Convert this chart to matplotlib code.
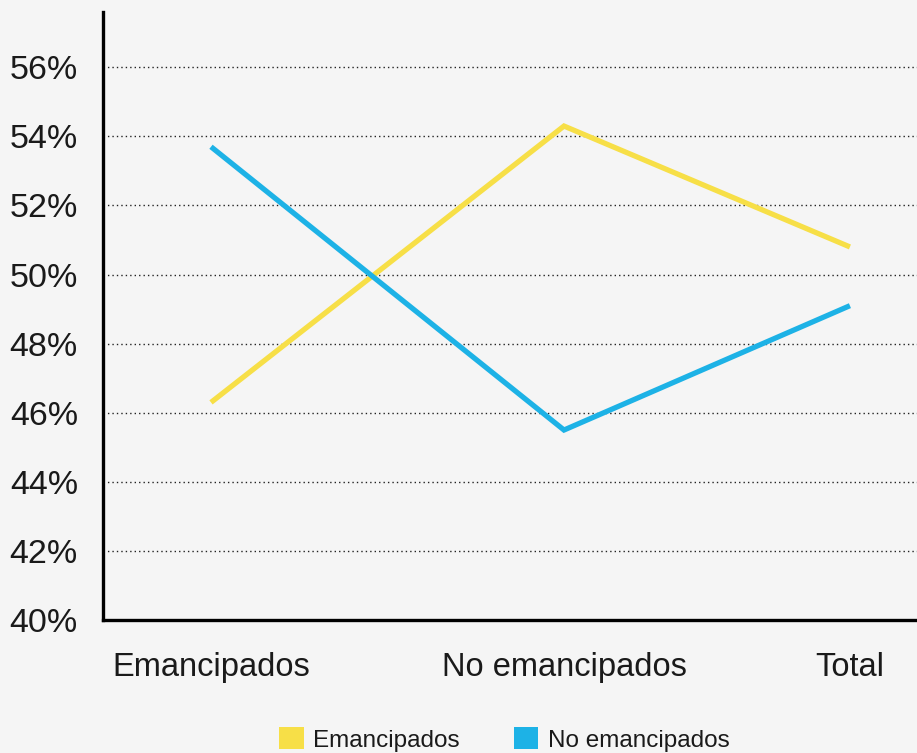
import matplotlib
matplotlib.use('Agg')
import matplotlib.pyplot as plt
from matplotlib.patches import Patch
from matplotlib.ticker import FuncFormatter

plt.rcParams['font.family'] = ['Liberation Sans', 'DejaVu Sans']

# Datos
categorias = ['Emancipados', 'No emancipados', 'Total']
emancipados = [46.3, 54.3, 50.8]
no_emancipados = [53.7, 45.5, 49.1]
y_ticks = [40, 42, 44, 46, 48, 50, 52, 54, 56]

# posiciones de las categorías en el eje (el original no es equiespaciado)
x_pos = [0, 1, 1.81]

amarillo = '#F7DF47'
azul = '#1DB2E6'
fondo = '#F5F5F5'

fig = plt.figure(figsize=(9.17, 7.53), dpi=100, facecolor=fondo)
ax = fig.add_axes([0.1123, 0.1766, 0.8877, 0.8074], facecolor=fondo)

ax.plot(x_pos, emancipados, color=amarillo, lw=3.8, solid_capstyle='butt', solid_joinstyle='miter', zorder=3)
ax.plot(x_pos, no_emancipados, color=azul, lw=3.8, solid_capstyle='butt', solid_joinstyle='miter', zorder=3)

ax.set_xlim(-0.306, 2.0)
ax.set_ylim(40, 57.6)

ax.set_yticks(y_ticks)
ax.yaxis.set_major_formatter(FuncFormatter(lambda v, p: f'{v:.0f}%'))
ax.set_xticks(x_pos)
ax.set_xticklabels(categorias)

# líneas de guía punteadas
for y in y_ticks[1:]:
    ax.axhline(y, color='#222222', lw=1.0, ls=(0, (1, 2.2)), zorder=1)

for s in ['top', 'right']:
    ax.spines[s].set_visible(False)
for s in ['left', 'bottom']:
    ax.spines[s].set_linewidth(2.4)
    ax.spines[s].set_color('black')

ax.tick_params(axis='y', length=0, pad=18, labelsize=24.5, labelcolor='#1a1a1a')
ax.tick_params(axis='x', length=0, pad=23, labelsize=23.5, labelcolor='#1a1a1a')

handles = [Patch(facecolor=amarillo, label='Emancipados'),
           Patch(facecolor=azul, label='No emancipados')]
fig.legend(handles=handles, loc='center', bbox_to_anchor=(0.55, 0.018), ncol=2,
           frameon=False, fontsize=17.5, handlelength=1.0, handleheight=1.0,
           handletextpad=0.4, columnspacing=2.2, labelcolor='#1a1a1a')

fig.savefig('out.png', dpi=100, facecolor=fondo)
